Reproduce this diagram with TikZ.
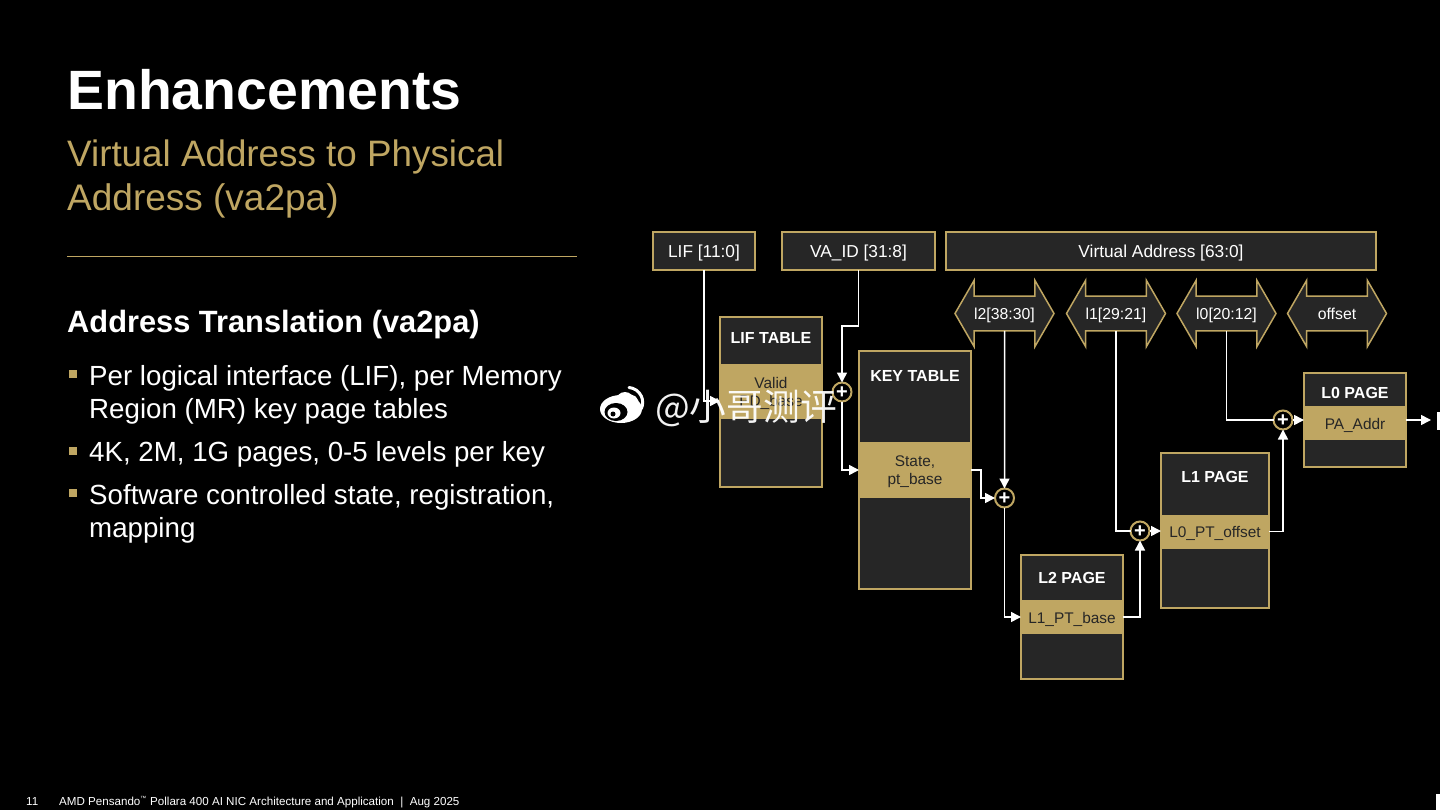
\documentclass[tikz,border=0pt]{standalone}
\usepackage{fontspec}
\setmainfont{Liberation Sans}
\newfontfamily\cjkfont{Noto Sans CJK SC}
\usetikzlibrary{arrows.meta,shapes.arrows}
\definecolor{amdgold}{HTML}{BFA662}
\definecolor{amddark}{HTML}{262626}
\newcommand{\fsz}[1]{\fontsize{#1}{1.16\dimexpr#1pt\relax}\selectfont}
\begin{document}
\begin{tikzpicture}[x=1pt, y=-1pt]
  % Define box, band and wire styles
  \tikzstyle{fieldbox} = [draw=amdgold, fill=amddark, line width=2pt, rectangle,
  outer sep=0pt, inner sep=0pt, text=white, font=\fsz{17.3}, minimum height=38pt,
  text height=14pt, text depth=0pt]
  \tikzstyle{tablebox} = [draw=amdgold, fill=amddark, line width=2pt, rectangle,
  outer sep=0pt, inner sep=0pt]
  \tikzstyle{bandbox} = [fill=amdgold, rectangle, outer sep=0pt, inner sep=0pt]
  \tikzstyle{bandtext} = [text=black!85, font=\fsz{15.4}, align=center, inner sep=0pt, yshift=-2pt]
  \tikzstyle{tabletitle} = [text=white, font=\bfseries\fsz{16}, inner sep=0pt]
  \tikzstyle{fieldarrow} = [draw=amdgold, fill=amddark, line width=1.5pt, double arrow,
  double arrow head extend=16pt, double arrow tip angle=120, double arrow head indent=0pt,
  minimum height=99pt, inner xsep=0pt, inner ysep=8.5pt, outer sep=0pt,
  text height=14pt, text depth=2pt, text=white, font=\fsz{15.8}]
  \tikzstyle{sumnode} = [draw=amdgold, fill=black, line width=2pt, circle,
  minimum size=19pt, inner sep=0pt, outer sep=0pt, text=white, font=\bfseries\fsz{20},
  text height=13.5pt, text depth=0pt]
  \tikzstyle{wire} = [draw=white, line width=1.5pt, -{Triangle[length=10pt,width=10pt]}]
  \tikzstyle{plainwire} = [draw=white, line width=1.5pt]
  \tikzstyle{slidetext} = [anchor=base west, inner sep=0pt, text=white, align=left]
  \tikzstyle{bulletmark} = [fill=amdgold, rectangle, minimum size=8pt, inner sep=0pt]

  \fill[black] (0,0) rectangle (1440,810);
  \useasboundingbox (0,0) rectangle (1440,810);

  % Left column
  \node[slidetext, font=\bfseries\fsz{55.4}] (title) at (67,110) {Enhancements};
  \node[slidetext, text=amdgold, font=\fsz{36.8}] (subone) at (67,167) {Virtual Address to Physical};
  \node[slidetext, text=amdgold, font=\fsz{37}] (subtwo) at (67,211) {Address (va2pa)};
  \coordinate (ruleleft) at (67,257);
  \coordinate (ruleright) at (577,257);
  \draw[amdgold, line width=1pt] (ruleleft) -- (ruleright);
  \node[slidetext, font=\bfseries\fsz{30.8}] (heading) at (67,332) {Address Translation (va2pa)};

  \node[bulletmark] (bulletone) at (73,374) {};
  \node[slidetext, font=\fsz{27.7}] (itemonea) at (89,385) {Per logical interface (LIF), per Memory};
  \node[slidetext, font=\fsz{27.7}] (itemoneb) at (89,418) {Region (MR) key page tables};
  \node[bulletmark] (bullettwo) at (73,451) {};
  \node[slidetext, font=\fsz{27.7}] (itemtwo) at (89,461) {4K, 2M, 1G pages, 0-5 levels per key};
  \node[bulletmark] (bulletthree) at (73,493) {};
  \node[slidetext, font=\fsz{27.7}] (itemthreea) at (89,504) {Software controlled state, registration,};
  \node[slidetext, font=\fsz{27.7}] (itemthreeb) at (89,537) {mapping};

  % Footer
  \node[slidetext, font=\fsz{11.6}] (pagenum) at (26,805) {11};
  \node[slidetext, font=\fsz{11.6}] (footer) at (59,805)
  {AMD Pensando\textsuperscript{\fsz{6}™} Pollara 400 AI NIC Architecture and Application~~|~~Aug 2025};

  % Address fields
  \node[fieldbox, minimum width=102pt] (lifid) at (704,251) {LIF [11:0]};
  \node[fieldbox, minimum width=153pt] (vaid) at (858.5,251) {VA\_ID [31:8]};
  \node[fieldbox, minimum width=430pt] (vaddr) at (1161,251) {Virtual Address [63:0]};
  \node[fieldarrow] (ltwo) at (1004.5,313.5) {l2[38:30]};
  \node[fieldarrow] (lone) at (1116,313.5) {l1[29:21]};
  \node[fieldarrow] (lzero) at (1226.5,313.5) {l0[20:12]};
  \node[fieldarrow] (offset) at (1337,313.5) {offset};

  % Tables
  \node[tablebox, minimum width=102pt, minimum height=170pt] (liftable) at (771,402) {};
  \node[bandbox, minimum width=102pt, minimum height=55pt] (lifband) at (771,391.5) {};
  \node[bandtext] (lifcell) at (lifband.center) {Valid\\PD\_base};
  \node[tabletitle] (liftitle) at (771,338) {LIF TABLE};

  \node[tablebox, minimum width=112pt, minimum height=238pt] (keytable) at (915,470) {};
  \node[bandbox, minimum width=112pt, minimum height=56pt] (keyband) at (915,470) {};
  \node[bandtext] (keycell) at (keyband.center) {State,\\pt\_base};
  \node[tabletitle] (keytitle) at (915,376) {KEY TABLE};

  \node[tablebox, minimum width=102pt, minimum height=124pt] (ltwotable) at (1072,617) {};
  \node[bandbox, minimum width=102pt, minimum height=34pt] (ltwoband) at (1072,617) {};
  \node[bandtext] (ltwocell) at (ltwoband.center) {L1\_PT\_base};
  \node[tabletitle] (ltwotitle) at (1072,578) {L2 PAGE};

  \node[tablebox, minimum width=108pt, minimum height=155pt] (lonetable) at (1215,530.5) {};
  \node[bandbox, minimum width=108pt, minimum height=34pt] (loneband) at (1215,531.5) {};
  \node[bandtext] (lonecell) at (loneband.center) {L0\_PT\_offset};
  \node[tabletitle] (lonetitle) at (1215,477) {L1 PAGE};

  \node[tablebox, minimum width=102pt, minimum height=94pt] (lzerotable) at (1355,420) {};
  \node[bandbox, minimum width=102pt, minimum height=34pt] (lzeroband) at (1355,423) {};
  \node[bandtext] (lzerocell) at (lzeroband.center) {PA\_Addr};
  \node[tabletitle] (lzerotitle) at (1355,393) {L0 PAGE};

  % Adders
  \node[sumnode] (sumkey) at (842,392) {+};
  \node[sumnode] (sumltwo) at (1004.5,498) {+};
  \node[sumnode] (sumlone) at (1140,531) {+};
  \node[sumnode] (sumlzero) at (1283,420) {+};

  % Wires
  \draw[wire] (lifid.south) |- ([yshift=-9.5pt]lifband.west);
  \coordinate (vaturn) at (842,326);
  \draw[wire] (vaid.south) |- (vaturn) -- (sumkey.north);
  \draw[wire] (sumkey.south) |- (keyband.west);
  \coordinate (keyturn) at (981,498);
  \draw[wire] (keyband.east) -| (keyturn) -- (sumltwo.west);
  \draw[wire] (ltwo.south) -- (sumltwo.north);
  \draw[wire] (sumltwo.south) |- (ltwoband.west);
  \draw[wire] (ltwoband.east) -| (sumlone.south);
  \draw[plainwire] (lone.south) |- (sumlone.west);
  \draw[wire] (sumlone.east) -- (loneband.west |- sumlone.east);
  \draw[wire] (loneband.east) -| (sumlzero.south);
  \draw[plainwire] (lzero.south) |- (sumlzero.west);
  \draw[wire] (sumlzero.east) -- (lzeroband.west |- sumlzero.east);
  \coordinate (paout) at (1431,420);
  \draw[wire] (lzeroband.east |- paout) -- (paout);

  % Cut off at the slide edge
  \fill[white] (1437,412) rectangle (1440,430);
  \fill[white] (1436,794) rectangle (1440,810);

  % Watermark
  \fill[white] (621,409) ellipse [x radius=21, y radius=14];
  \fill[white] (625,401) circle (9);
  \fill[black] (616,412) ellipse [x radius=11.5, y radius=9];
  \fill[white] (614,413) ellipse [x radius=6.5, y radius=5.5];
  \fill[black] (613,414) circle (2.5);
  \draw[white, line width=3pt, line cap=round] (629,387.5) arc (-85:25:15);
  \draw[white, line width=3pt, line cap=round] (631,396) arc (-80:20:7.5);
  \node[slidetext, font=\cjkfont\fsz{36.7}, fill opacity=.95] (mark) at (655,420) {@小哥测评};
\end{tikzpicture}
\end{document}
